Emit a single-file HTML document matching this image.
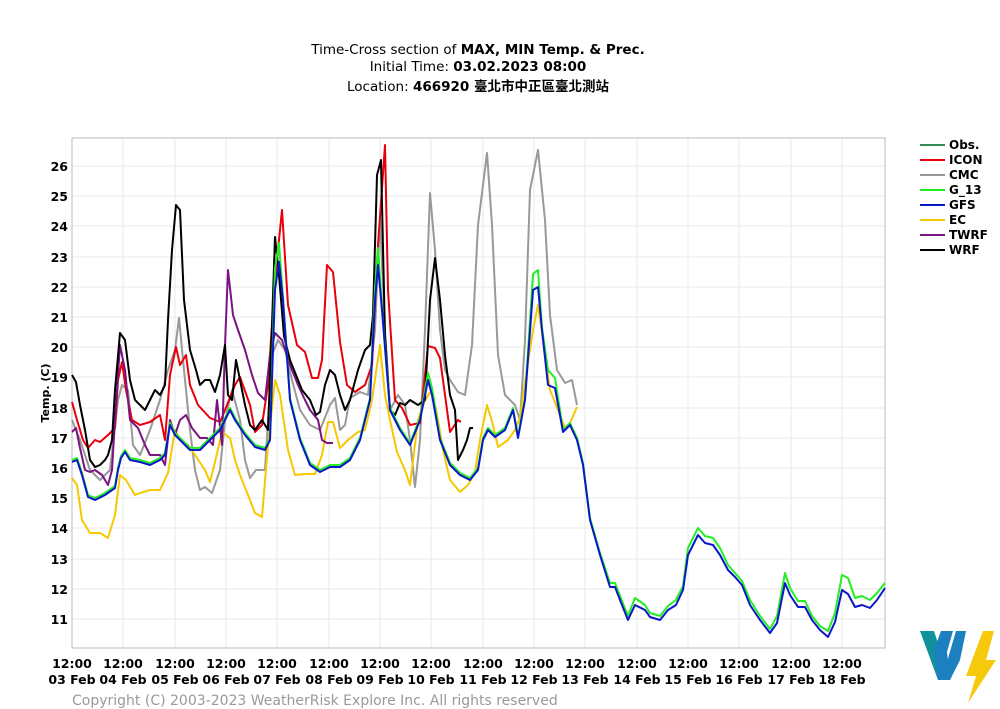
<!DOCTYPE html>
<html><head><meta charset="utf-8"><style>
body{margin:0;background:#fff}
svg{display:block;font-family:"DejaVu Sans","Liberation Sans","Noto Sans CJK TC",sans-serif}
</style></head><body>
<svg width="1000" height="709" viewBox="0 0 1000 709" xmlns="http://www.w3.org/2000/svg">
<rect width="1000" height="709" fill="#fff"/>
<text x="478" y="54" font-size="13.5" text-anchor="middle">Time-Cross section of <tspan font-weight="bold">MAX, MIN Temp. &amp; Prec.</tspan></text>
<text x="478" y="71" font-size="13.5" text-anchor="middle">Initial Time: <tspan font-weight="bold">03.02.2023 08:00</tspan></text>
<text x="478" y="91" font-size="13.5" text-anchor="middle">Location: <tspan font-weight="bold">466920 臺北市中正區臺北測站</tspan></text>
<g stroke="#e8e8e8" stroke-width="1">
<line x1="72" x2="885" y1="166" y2="166"/><line x1="72" x2="885" y1="196" y2="196"/><line x1="72" x2="885" y1="226" y2="226"/><line x1="72" x2="885" y1="257" y2="257"/><line x1="72" x2="885" y1="287" y2="287"/><line x1="72" x2="885" y1="317" y2="317"/><line x1="72" x2="885" y1="347" y2="347"/><line x1="72" x2="885" y1="377" y2="377"/><line x1="72" x2="885" y1="408" y2="408"/><line x1="72" x2="885" y1="438" y2="438"/><line x1="72" x2="885" y1="468" y2="468"/><line x1="72" x2="885" y1="498" y2="498"/><line x1="72" x2="885" y1="528" y2="528"/><line x1="72" x2="885" y1="559" y2="559"/><line x1="72" x2="885" y1="589" y2="589"/><line x1="72" x2="885" y1="619" y2="619"/>
<line y1="138" y2="648" x1="123" x2="123"/><line y1="138" y2="648" x1="175" x2="175"/><line y1="138" y2="648" x1="226" x2="226"/><line y1="138" y2="648" x1="277" x2="277"/><line y1="138" y2="648" x1="329" x2="329"/><line y1="138" y2="648" x1="380" x2="380"/><line y1="138" y2="648" x1="431" x2="431"/><line y1="138" y2="648" x1="483" x2="483"/><line y1="138" y2="648" x1="534" x2="534"/><line y1="138" y2="648" x1="585" x2="585"/><line y1="138" y2="648" x1="637" x2="637"/><line y1="138" y2="648" x1="688" x2="688"/><line y1="138" y2="648" x1="739" x2="739"/><line y1="138" y2="648" x1="791" x2="791"/><line y1="138" y2="648" x1="842" x2="842"/>
</g>
<rect x="72" y="138" width="813" height="510" fill="none" stroke="#bbb" stroke-width="1"/>
<g font-size="12.5" font-weight="bold" text-anchor="end">
<text x="68" y="171">26</text><text x="68" y="201">25</text><text x="68" y="231">24</text><text x="68" y="262">23</text><text x="68" y="292">22</text><text x="68" y="322">21</text><text x="68" y="352">20</text><text x="68" y="382">19</text><text x="68" y="413">18</text><text x="68" y="443">17</text><text x="68" y="473">16</text><text x="68" y="503">15</text><text x="68" y="533">14</text><text x="68" y="564">13</text><text x="68" y="594">12</text><text x="68" y="624">11</text>
</g>
<text transform="translate(49,393) rotate(-90)" font-size="11" font-weight="bold" text-anchor="middle">Temp. (C)</text>
<g font-size="12.5" font-weight="bold" text-anchor="middle">
<text x="72" y="668">12:00</text><text x="72" y="684">03 Feb</text>
<text x="123" y="668">12:00</text><text x="123" y="684">04 Feb</text>
<text x="175" y="668">12:00</text><text x="175" y="684">05 Feb</text>
<text x="226" y="668">12:00</text><text x="226" y="684">06 Feb</text>
<text x="277" y="668">12:00</text><text x="277" y="684">07 Feb</text>
<text x="329" y="668">12:00</text><text x="329" y="684">08 Feb</text>
<text x="380" y="668">12:00</text><text x="380" y="684">09 Feb</text>
<text x="431" y="668">12:00</text><text x="431" y="684">10 Feb</text>
<text x="483" y="668">12:00</text><text x="483" y="684">11 Feb</text>
<text x="534" y="668">12:00</text><text x="534" y="684">12 Feb</text>
<text x="585" y="668">12:00</text><text x="585" y="684">13 Feb</text>
<text x="637" y="668">12:00</text><text x="637" y="684">14 Feb</text>
<text x="688" y="668">12:00</text><text x="688" y="684">15 Feb</text>
<text x="739" y="668">12:00</text><text x="739" y="684">16 Feb</text>
<text x="791" y="668">12:00</text><text x="791" y="684">17 Feb</text>
<text x="842" y="668">12:00</text><text x="842" y="684">18 Feb</text>
</g>
<g fill="none" stroke-width="2" stroke-linejoin="round">
<polyline stroke="#999" points="72,420 80,440 90,470 100,480 110,470 118,400 122,385 128,390 133,445 140,455 150,430 160,400 168,370 175,350 179,318 184,370 190,430 195,470 200,490 205,487 212,493 220,470 225,420 232,390 240,420 245,460 250,478 256,470 265,470 272,355 278,340 285,350 292,380 300,410 310,425 320,430 330,405 335,398 340,430 345,425 350,398 360,392 368,395 375,330 380,218 385,330 390,410 398,395 405,405 410,440 415,487 420,440 425,330 430,193 435,250 440,330 445,370 450,380 458,392 465,395 472,345 478,225 487,153 492,225 498,355 505,395 515,405 520,420 525,340 530,190 538,150 545,220 550,315 557,370 565,383 572,380 577,405"/>
<polyline stroke="#f5c800" points="72,478 77,485 82,520 90,533 100,533 108,538 115,515 120,475 126,480 135,495 140,493 150,490 160,490 168,473 175,430 180,440 188,445 195,455 205,470 210,482 215,462 222,432 230,438 235,460 240,475 248,495 255,513 262,517 268,445 275,380 280,395 288,450 295,475 305,474 315,474 322,455 328,422 333,422 340,448 348,440 358,432 365,430 372,400 380,345 385,395 390,420 397,452 405,470 410,485 418,420 425,400 432,390 438,420 443,450 450,480 460,492 468,485 475,472 480,440 487,405 493,425 498,447 508,440 515,430 520,418 525,382 533,330 538,305 543,340 550,390 558,410 565,428 570,423 577,407"/>
<polyline stroke="#e8000b" points="72,402 77,420 83,440 88,448 95,440 100,442 108,435 115,428 118,380 122,362 126,390 132,420 140,425 150,422 160,415 165,440 170,375 176,347 180,365 186,355 190,385 198,405 210,418 220,422 225,410 235,385 240,377 250,405 255,432 262,425 268,385 275,280 282,210 288,305 297,345 305,352 312,378 318,378 322,360 327,265 333,272 340,342 347,385 355,392 365,385 372,365 378,245 385,145 388,290 395,400 402,408 410,425 420,423 428,346 435,348 440,358 445,395 450,432 458,420 461,422"/>
<polyline stroke="#7b1480" points="72,432 76,428 80,448 85,470 90,472 95,470 102,475 108,485 112,470 115,420 120,345 125,370 130,420 138,428 145,445 150,455 160,455 165,465 170,420 175,435 180,420 186,415 192,428 200,438 207,438 213,445 217,400 222,445 225,345 228,270 233,315 238,330 245,350 252,375 258,393 265,400 270,355 275,333 282,340 290,365 298,385 305,400 310,410 318,420 322,440 327,443 333,443"/>
<polyline stroke="#000" points="72,375 76,382 80,405 85,430 90,460 95,467 100,465 105,460 108,455 112,440 115,390 120,333 125,340 130,380 135,400 140,405 145,410 150,400 155,390 160,395 165,385 168,320 172,250 176,205 180,210 184,300 190,350 196,370 200,385 205,380 210,380 215,392 220,375 225,345 228,395 232,400 236,360 240,380 245,405 250,425 255,430 262,420 268,430 272,325 275,237 279,275 284,336 290,360 296,375 302,390 310,400 316,415 320,412 325,385 330,370 335,375 340,395 345,410 350,400 358,370 365,350 370,345 373,315 377,175 381,160 385,335 390,410 395,415 400,403 405,405 410,400 418,405 425,400 430,300 435,258 440,300 445,355 450,395 455,410 458,460 463,450 467,440 470,428 473,428"/>
<polyline stroke="#22ee22" transform="translate(0,-2)" points="72,462 77,460 82,475 88,497 95,500 105,495 115,488 118,470 121,458 125,452 130,460 140,462 150,465 160,460 165,455 170,425 175,435 180,440 190,450 200,450 210,440 220,430 230,410 235,420 245,435 255,447 265,450 270,440 275,270 279,245 283,300 290,400 300,440 310,465 320,472 330,467 340,467 350,460 360,440 370,400 375,290 378,250 382,310 390,410 400,430 410,445 420,420 428,375 432,390 440,440 450,465 460,475 470,480 478,470 483,440 488,430 495,437 505,430 513,410 518,438 525,400 533,276 538,272 542,330 548,372 555,380 563,432 570,425 577,440 583,465 590,520 600,555 610,585 615,585 622,603 628,618 635,600 645,607 650,615 660,618 668,608 676,602 683,588 688,550 698,530 705,538 713,540 720,550 728,567 735,575 742,583 750,602 760,618 770,631 777,618 785,575 790,590 798,603 805,603 812,618 820,628 828,633 835,615 842,577 848,580 855,600 862,598 870,602 877,595 885,585"/>
<polyline stroke="#0a18c8" points="72,462 77,460 82,475 88,497 95,500 105,495 115,488 118,470 121,458 125,452 130,460 140,462 150,465 160,460 165,455 170,425 175,435 180,440 190,450 200,450 210,440 220,430 230,410 235,420 245,435 255,447 265,450 270,440 275,290 279,262 283,300 290,400 300,440 310,465 320,472 330,467 340,467 350,460 360,440 370,400 375,300 378,265 382,310 390,410 400,430 410,445 420,420 428,380 432,395 440,440 450,465 460,475 470,480 478,470 483,440 488,430 495,437 505,430 513,410 518,438 525,400 533,290 538,287 542,330 548,385 555,388 563,432 570,425 577,440 583,465 590,520 600,555 610,587 615,587 622,605 628,620 635,605 645,610 650,617 660,620 668,610 676,605 683,590 688,555 698,535 705,543 713,545 720,555 728,570 735,577 742,585 750,605 760,620 770,633 777,623 785,583 790,595 798,607 805,607 812,620 820,630 828,637 835,622 842,590 848,594 855,607 862,605 870,608 877,600 885,588"/>
</g>
<g stroke-width="2">
<line x1="920" x2="945" y1="145" y2="145" stroke="#2e8b57"/>
<line x1="920" x2="945" y1="160" y2="160" stroke="#e8000b"/>
<line x1="920" x2="945" y1="175" y2="175" stroke="#999"/>
<line x1="920" x2="945" y1="190" y2="190" stroke="#22ee22"/>
<line x1="920" x2="945" y1="205" y2="205" stroke="#0a18c8"/>
<line x1="920" x2="945" y1="220" y2="220" stroke="#f5c800"/>
<line x1="920" x2="945" y1="235" y2="235" stroke="#7b1480"/>
<line x1="920" x2="945" y1="250" y2="250" stroke="#000"/>
</g>
<g font-size="12" font-weight="bold">
<text x="949" y="149">Obs.</text><text x="949" y="164">ICON</text><text x="949" y="179">CMC</text><text x="949" y="194">G_13</text><text x="949" y="209">GFS</text><text x="949" y="224">EC</text><text x="949" y="239">TWRF</text><text x="949" y="254">WRF</text>
</g>
<text x="72" y="705" font-size="14" fill="#999">Copyright (C) 2003-2023 WeatherRisk Explore Inc. All rights reserved</text>
<polygon points="920,631 934,631 946,668 950,680 938,680" fill="#11929a"/>
<polygon points="934,650 941,631 953,631 947,652 950,680 938,680" fill="#1b7fc0"/>
<polygon points="956,631 966,631 960,660 950,680 944,672" fill="#1b7fc0"/>
<polygon points="983,631 994,631 986,660 996,660 968,703 976,676 966,676" fill="#f7c90c"/>
</svg>
</body></html>
